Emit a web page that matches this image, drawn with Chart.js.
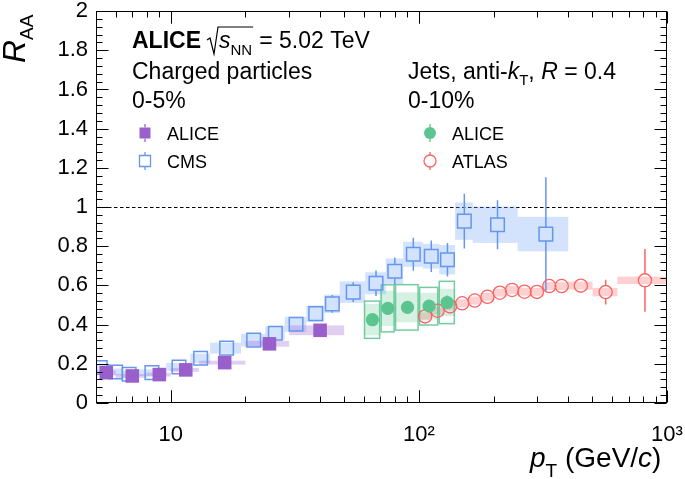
<!DOCTYPE html>
<html>
<head>
<meta charset="utf-8">
<title>R_AA vs pT</title>
<script src="https://cdn.jsdelivr.net/npm/chart.js@4.4.1/dist/chart.umd.min.js"></script>
<style>
    html, body { margin: 0; padding: 0; background: #fff; }
    #wrap { width: 685px; height: 479px; }
</style>
</head>
<body>
<div id="wrap"><canvas id="raaChart" width="685" height="479"></canvas></div>
<script>
// Charged particles 0-5%, ALICE
const hAliceX    = [5.5, 7, 9, 11.5, 16.5, 25, 40];
const hAliceXLo  = [5, 6, 8, 10, 13, 20, 30];
const hAliceXHi  = [6, 8, 10, 13, 20, 30, 50];
const hAliceY    = [0.155, 0.138, 0.145, 0.169, 0.206, 0.302, 0.371];
const hAliceStat = [0.002, 0.002, 0.002, 0.003, 0.004, 0.006, 0.01];
const hAliceSys  = [0.012, 0.01, 0.01, 0.01, 0.01, 0.015, 0.025];

// Charged particles 0-5%, CMS
const cmsX    = [5.2, 6.0, 6.8, 8.4, 10.8, 13.2, 16.8, 21.6, 26.4, 32, 38.4, 44.8, 54.4, 67.2, 80, 95, 112.2, 130.4, 152.5, 207.5, 325];
const cmsXLo  = [4.8, 5.6, 6.4, 7.2, 9.6, 12, 14.4, 19.2, 24, 28.8, 35.2, 41.6, 48, 60.8, 73.6, 86.4, 103.6, 120.8, 140, 165, 250];
const cmsXHi  = [5.6, 6.4, 7.2, 9.6, 12, 14.4, 19.2, 24, 28.8, 35.2, 41.6, 48, 60.8, 73.6, 86.4, 103.6, 120.8, 140, 165, 250, 400];
const cmsY    = [0.181, 0.158, 0.147, 0.155, 0.184, 0.228, 0.280, 0.321, 0.356, 0.402, 0.456, 0.506, 0.566, 0.611, 0.672, 0.759, 0.749, 0.731, 0.928, 0.910, 0.862];
const cmsStat = [0.003, 0.003, 0.003, 0.003, 0.004, 0.005, 0.006, 0.01, 0.015, 0.025, 0.035, 0.045, 0.05, 0.065, 0.07, 0.084, 0.08, 0.085, 0.14, 0.125, 0.29];
const cmsSys  = [0.02, 0.018, 0.017, 0.017, 0.02, 0.024, 0.028, 0.032, 0.035, 0.038, 0.042, 0.047, 0.055, 0.056, 0.065, 0.064, 0.063, 0.075, 0.095, 0.093, 0.088];

// Jets 0-10%, ALICE
const jetX       = [65, 75, 90, 110, 130];
const jetXLo     = [60, 70, 80, 100, 120];
const jetXHi     = [70, 80, 100, 120, 140];
const jetY       = [0.425, 0.483, 0.488, 0.494, 0.513];
const jetStat    = [0.01, 0.012, 0.01, 0.025, 0.035];
const jetSysFill = [0.08, 0.09, 0.076, 0.068, 0.07];
const jetSysBox  = [0.095, 0.12, 0.116, 0.096, 0.108];

// Jets 0-10%, ATLAS
const atlasX    = [106, 119, 133.5, 149.5, 168, 189, 212, 237.5, 266.5, 299, 335.5, 376.5, 449.5, 566, 815];
const atlasXLo  = [100, 112, 126, 141, 158, 178, 200, 224, 251, 282, 316, 355, 398, 501, 631];
const atlasXHi  = [112, 126, 141, 158, 178, 200, 224, 251, 282, 316, 355, 398, 501, 631, 1000];
const atlasY    = [0.442, 0.471, 0.493, 0.509, 0.523, 0.542, 0.563, 0.577, 0.568, 0.567, 0.597, 0.597, 0.599, 0.566, 0.626];
const atlasStat = [0.003, 0.003, 0.003, 0.003, 0.004, 0.004, 0.005, 0.005, 0.006, 0.007, 0.008, 0.01, 0.02, 0.063, 0.16];
const atlasSys  = [0.02, 0.02, 0.02, 0.02, 0.02, 0.02, 0.02, 0.02, 0.02, 0.02, 0.02, 0.02, 0.02, 0.021, 0.019];

// Axis ticks
const yTickLabels = ['0', '0.2', '0.4', '0.6', '0.8', '1', '1.2', '1.4', '1.6', '1.8', '2'];
const xTickValues = [10, 100, 1000];
const xTickLabels = ['10', '10\u00B2', '10\u00B3'];

const FONT = "'Liberation Sans', Arial, Helvetica, sans-serif";
const purple = 'rgb(153, 96, 204)';
const blue = 'rgb(100, 150, 240)';
const green = 'rgb(92, 196, 142)';
const red = 'rgb(250, 100, 100)';

function toPoints(xs, ys) {
    return xs.map((x, i) => ({ x: x, y: ys[i] }));
}

// draw a run of text pieces, returns x at the end
function runText(ctx, x, y, parts) {
    parts.forEach(p => {
        ctx.font = `${p.style || 'normal'} ${p.size}px ${FONT}`;
        ctx.fillText(p.t, x, y + (p.dy || 0));
        x += ctx.measureText(p.t).width;
    });
    return x;
}

// Systematic boxes and statistical bars, drawn behind the markers
const errorPlugin = {
    id: 'errorBoxes',
    beforeDatasetsDraw(chart) {
        const { ctx, chartArea: area, scales } = chart;
        const xs = scales.x, ys = scales.y;
        ctx.save();
        ctx.beginPath();
        ctx.rect(area.left, area.top, area.width, area.height);
        ctx.clip();

        // unity line
        const y1 = Math.round(ys.getPixelForValue(1)) + 0.5;
        ctx.setLineDash([3.5, 2.5]);
        ctx.strokeStyle = '#000';
        ctx.lineWidth = 1;
        ctx.beginPath();
        ctx.moveTo(area.left, y1);
        ctx.lineTo(area.right, y1);
        ctx.stroke();
        ctx.setLineDash([]);

        const dsets = chart.data.datasets.slice().reverse();
        dsets.forEach(ds => {
            ds.data.forEach((p, i) => {
                const x0 = xs.getPixelForValue(ds.xLo[i]);
                const x1 = xs.getPixelForValue(ds.xHi[i]);
                if (ds.boxFill) {
                    const top = ys.getPixelForValue(p.y + ds.sys[i]);
                    const bot = ys.getPixelForValue(p.y - ds.sys[i]);
                    ctx.fillStyle = ds.boxFill;
                    ctx.fillRect(x0, top, x1 - x0, bot - top);
                }
                if (ds.boxLine) {
                    const top = ys.getPixelForValue(p.y + ds.sysBox[i]);
                    const bot = ys.getPixelForValue(p.y - ds.sysBox[i]);
                    ctx.strokeStyle = ds.boxLine;
                    ctx.lineWidth = 1.5;
                    ctx.strokeRect(x0 + 0.75, top, x1 - x0 - 1.5, bot - top);
                }
            });
        });

        dsets.forEach(ds => {
            ctx.strokeStyle = ds.barColor;
            ctx.lineWidth = 1.5;
            ds.data.forEach((p, i) => {
                const px = xs.getPixelForValue(p.x);
                const py = ys.getPixelForValue(p.y);
                const top = ys.getPixelForValue(p.y + ds.stat[i]);
                const bot = ys.getPixelForValue(p.y - ds.stat[i]);
                ctx.beginPath();
                if (py - top > ds.gap) { ctx.moveTo(px, top); ctx.lineTo(px, py - ds.gap); }
                if (bot - py > ds.gap) { ctx.moveTo(px, py + ds.gap); ctx.lineTo(px, bot); }
                ctx.stroke();
            });
        });
        ctx.restore();
    },

    afterDraw(chart) {
        const { ctx, chartArea: a, scales } = chart;
        const xs = scales.x, ys = scales.y;
        ctx.save();

        // frame
        ctx.strokeStyle = '#000';
        ctx.lineWidth = 1;
        const L = Math.round(a.left) + 0.5, R = Math.round(a.right) - 0.5;
        const T = Math.round(a.top) + 0.5, B = Math.round(a.bottom) - 0.5;
        ctx.strokeRect(L, T, R - L, B - T);

        // ticks pointing inward, mirrored on top/right
        ctx.beginPath();
        for (let k = 0; k <= 50; k++) {
            const v = k * 0.04;
            const len = k % 5 === 0 ? 12 : 6;
            const py = Math.round(ys.getPixelForValue(v)) + 0.5;
            ctx.moveTo(L, py); ctx.lineTo(L + len, py);
            ctx.moveTo(R, py); ctx.lineTo(R - len, py);
        }
        [1, 10, 100].forEach(dec => {
            for (let m = 1; m <= 10; m++) {
                const v = dec * m;
                if (v < 5 || v > 1000) continue;
                const len = (m === 1 || m === 10) ? 12 : 6;
                const px = Math.round(xs.getPixelForValue(v)) + 0.5;
                ctx.moveTo(px, B); ctx.lineTo(px, B - len);
                ctx.moveTo(px, T); ctx.lineTo(px, T + len);
            }
        });
        ctx.stroke();

        // header text
        ctx.fillStyle = '#000';
        ctx.textAlign = 'left';
        ctx.textBaseline = 'alphabetic';
        let cx = runText(ctx, 132, 48, [{ t: 'ALICE', size: 23, style: 'bold' }]);
        const rx = cx + 6;
        cx = runText(ctx, rx + 12, 48, [{ t: 's', size: 23, style: 'italic' }, { t: 'NN', size: 15, dy: 7 }]);
        ctx.lineWidth = 1.2;
        ctx.beginPath();
        ctx.moveTo(rx, 40); ctx.lineTo(rx + 3, 38); ctx.lineTo(rx + 7, 54);
        ctx.lineTo(rx + 11, 27); ctx.lineTo(cx + 1, 27);
        ctx.stroke();
        runText(ctx, cx + 7, 48, [{ t: '= 5.02 TeV', size: 23 }]);

        runText(ctx, 132, 79, [{ t: 'Charged particles', size: 23 }]);
        runText(ctx, 132, 108, [{ t: '0-5%', size: 23 }]);
        runText(ctx, 408, 79, [
            { t: 'Jets, anti-', size: 23 }, { t: 'k', size: 23, style: 'italic' },
            { t: 'T', size: 15, dy: 6 }, { t: ', ', size: 23 },
            { t: 'R', size: 23, style: 'italic' }, { t: ' = 0.4', size: 23 }
        ]);
        runText(ctx, 408, 108, [{ t: '0-10%', size: 23 }]);

        // legend entries
        const rows = [
            { x: 145, y: 133, label: 'ALICE', color: purple, shape: 'square', fill: true },
            { x: 145, y: 161, label: 'CMS', color: blue, shape: 'square', fill: false },
            { x: 430, y: 133, label: 'ALICE', color: green, shape: 'circle', fill: true },
            { x: 430, y: 161, label: 'ATLAS', color: red, shape: 'circle', fill: false }
        ];
        rows.forEach(r => {
            ctx.strokeStyle = r.color;
            ctx.fillStyle = r.color;
            ctx.lineWidth = 1.3;
            ctx.beginPath();
            ctx.moveTo(r.x, r.y - 9); ctx.lineTo(r.x, r.y - 5.5);
            ctx.moveTo(r.x, r.y + 5.5); ctx.lineTo(r.x, r.y + 9);
            ctx.stroke();
            ctx.beginPath();
            if (r.shape === 'square') ctx.rect(r.x - 5.5, r.y - 5.5, 11, 11);
            else ctx.arc(r.x, r.y, 6, 0, Math.PI * 2);
            if (r.fill) ctx.fill(); else ctx.stroke();
            ctx.fillStyle = '#000';
            runText(ctx, r.x + 22, r.y + 6.5, [{ t: r.label, size: 18 }]);
        });

        // axis titles
        ctx.save();
        ctx.translate(25, 63);
        ctx.rotate(-Math.PI / 2);
        runText(ctx, 0, 0, [{ t: 'R', size: 32, style: 'italic' }, { t: 'AA', size: 19, dy: 8 }]);
        ctx.restore();
        runText(ctx, 530, 467, [
            { t: 'p', size: 28, style: 'italic' }, { t: 'T', size: 19, dy: 10 },
            { t: ' (GeV/', size: 28 }, { t: 'c', size: 28, style: 'italic' }, { t: ')', size: 28 }
        ]);
        ctx.restore();
    }
};

const ctx = document.getElementById('raaChart');
const chart = new Chart(ctx, {
    type: 'scatter',
    data: {
        datasets: [
            {
                label: 'ALICE charged particles',
                data: toPoints(hAliceX, hAliceY),
                pointStyle: 'rect', pointRadius: 9.6,
                backgroundColor: purple, borderColor: purple, borderWidth: 0,
                xLo: hAliceXLo, xHi: hAliceXHi, stat: hAliceStat, sys: hAliceSys,
                boxFill: 'rgba(153, 96, 204, 0.3)', barColor: purple, gap: 7
            },
            {
                label: 'ALICE jets',
                data: toPoints(jetX, jetY),
                pointStyle: 'circle', pointRadius: 6.6,
                backgroundColor: green, borderColor: green, borderWidth: 0,
                xLo: jetXLo, xHi: jetXHi, stat: jetStat, sys: jetSysFill, sysBox: jetSysBox,
                boxFill: 'rgba(92, 196, 142, 0.25)', boxLine: 'rgba(92, 196, 142, 0.85)',
                barColor: green, gap: 6.5
            },
            {
                label: 'CMS',
                data: toPoints(cmsX, cmsY),
                pointStyle: 'rect', pointRadius: 9.6,
                backgroundColor: 'rgba(0, 0, 0, 0)', borderColor: blue, borderWidth: 1.5,
                xLo: cmsXLo, xHi: cmsXHi, stat: cmsStat, sys: cmsSys,
                boxFill: 'rgba(110, 160, 250, 0.3)', barColor: blue, gap: 7
            },
            {
                label: 'ATLAS',
                data: toPoints(atlasX, atlasY),
                pointStyle: 'circle', pointRadius: 6.6,
                backgroundColor: 'rgba(0, 0, 0, 0)', borderColor: red, borderWidth: 1.3,
                xLo: atlasXLo, xHi: atlasXHi, stat: atlasStat, sys: atlasSys,
                boxFill: 'rgba(255, 120, 120, 0.35)', barColor: red, gap: 6.6
            }
        ]
    },
    options: {
        responsive: false,
        animation: false,
        events: [],
        layout: { padding: { left: 0, right: 18, top: 8, bottom: 0 } },
        plugins: {
            legend: { display: false },
            tooltip: { enabled: false }
        },
        scales: {
            x: {
                type: 'logarithmic',
                min: 5,
                max: 1000,
                grid: { display: false, drawTicks: false },
                border: { display: false },
                afterBuildTicks: scale => {
                    scale.ticks = xTickValues.map(v => ({ value: v, major: true }));
                },
                afterFit: scale => {
                    scale.height = 76;
                    scale.paddingLeft = 0;
                    scale.paddingRight = 0;
                },
                ticks: {
                    autoSkip: false,
                    maxRotation: 0,
                    padding: 19,
                    color: '#000',
                    font: { family: FONT, size: 22 },
                    callback: (value, index) => xTickLabels[index]
                }
            },
            y: {
                min: 0,
                max: 2,
                grid: { display: false, drawTicks: false },
                border: { display: false },
                afterFit: scale => {
                    scale.width = 96;
                    scale.paddingTop = 0;
                    scale.paddingBottom = 0;
                },
                ticks: {
                    stepSize: 0.2,
                    padding: 8,
                    color: '#000',
                    font: { family: FONT, size: 22 },
                    callback: (value, index) => yTickLabels[index]
                }
            }
        }
    },
    plugins: [errorPlugin]
});
</script>
</body>
</html>
